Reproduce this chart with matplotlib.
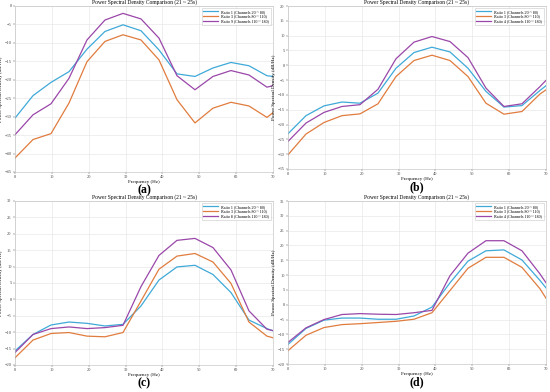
import matplotlib
matplotlib.use('Agg')
import matplotlib.pyplot as plt

plt.rcParams['font.family'] = ['Liberation Serif', 'DejaVu Serif']

# frequency bins (Hz)
freq = [0, 4.88, 9.77, 14.65, 19.53, 24.41, 29.3, 34.18, 39.06, 43.95, 48.83, 53.71, 58.59, 63.48, 68.36, 70]

# panel (a)
a_r1 = [-30.4, -24.3, -20.7, -17.8, -11.7, -6.9, -5.1, -6.7, -11.9, -18.4, -19.1, -16.8, -15.3, -16.2, -18.9, -19.1]
a_r3 = [-41.2, -36.2, -34.6, -26.3, -15.1, -9.6, -7.8, -9.2, -14.6, -25.4, -31.7, -27.7, -26.1, -27.1, -30.2, -28.9]
a_rx = [-34.9, -29.5, -26.5, -19.6, -9.2, -3.8, -2.0, -3.5, -8.7, -18.9, -22.7, -19.1, -17.5, -18.7, -22.0, -21.6]

# panel (b)
b_r1 = [-23.1, -17.0, -13.7, -12.4, -12.8, -9.4, -1.0, 4.3, 6.1, 4.5, -1.0, -8.8, -14.1, -13.6, -8.5, -6.9]
b_r3 = [-30.2, -23.2, -19.3, -17.0, -16.4, -13.0, -3.8, 1.6, 3.4, 1.6, -3.8, -12.8, -16.5, -15.6, -9.7, -8.3]
b_rx = [-25.7, -19.5, -15.9, -13.9, -13.3, -8.1, 2.2, 7.8, 9.7, 8.0, 2.6, -7.7, -13.9, -13.0, -7.2, -5.1]

# panel (c)
c_r1 = [-15.7, -10.7, -7.8, -6.9, -7.3, -8.1, -7.6, -2.0, 5.9, 9.9, 10.4, 7.6, 2.1, -6.3, -8.9, -9.6]
c_r3 = [-17.8, -12.4, -10.4, -10.1, -11.2, -11.4, -10.1, -0.5, 9.2, 13.2, 14.0, 11.4, 4.9, -6.9, -11.2, -11.7]
c_rx = [-16.2, -10.7, -8.9, -8.4, -8.9, -8.6, -7.9, 3.9, 13.4, 18.0, 18.6, 15.8, 9.0, -3.5, -9.1, -9.5]

# panel (d)
d_r1 = [-13.4, -8.0, -5.2, -4.5, -4.5, -4.9, -4.9, -3.8, -0.8, 7.4, 14.7, 18.2, 18.5, 15.1, 8.2, 5.7]
d_r3 = [-15.5, -10.3, -7.7, -6.7, -6.4, -6.0, -5.6, -4.9, -2.7, 4.8, 12.3, 16.0, 16.0, 12.6, 5.4, 2.2]
d_rx = [-12.7, -7.8, -5.0, -3.3, -3.0, -3.2, -3.3, -2.7, -1.9, 9.8, 17.4, 21.6, 21.6, 18.2, 10.4, 7.4]

panels = [
    ('(a)', a_r1, a_r3, a_rx, 'Ratio 9', (-45, 0)),
    ('(b)', b_r1, b_r3, b_rx, 'Ratio 4', (-35, 20)),
    ('(c)', c_r1, c_r3, c_rx, 'Ratio 8', (-20, 30)),
    ('(d)', d_r1, d_r3, d_rx, 'Ratio 4', (-20, 35)),
]

# axes positions in pixels: left, top, right, bottom
boxes = [(15, 6, 273, 172), (288, 6, 546, 169), (15, 201, 273, 365), (288, 201, 546, 364)]

W, H = 550, 392
fig = plt.figure(figsize=(W / 100, H / 100), dpi=100)
fig.patch.set_facecolor('white')

colors = ['#3fa9d8', '#e07c3e', '#9a47a9']

for (tag, r1, r3, rx, xname, ylim), (l, t, r, b) in zip(panels, boxes):
    ax = fig.add_axes([l / W, 1 - b / H, (r - l) / W, (b - t) / H])
    ax.plot(freq, r1, color=colors[0], lw=0.9, label='Ratio 1 (Channels 20 ~ 80)')
    ax.plot(freq, r3, color=colors[1], lw=0.9, label='Ratio 3 (Channels 80 ~ 110)')
    ax.plot(freq, rx, color=colors[2], lw=0.9, label=xname + ' (Channels 110 ~ 180)')
    ax.set_xlim(0, 70)
    ax.set_ylim(*ylim)
    ax.set_xticks(range(0, 71, 10))
    ax.set_yticks(range(ylim[0], ylim[1] + 1, 5))
    ax.tick_params(labelsize=3.2, length=1.5, width=0.3, pad=1, colors='#444444')
    ax.grid(True, color='#e3e3e3', lw=0.4)
    for s in ax.spines.values():
        s.set_linewidth(0.4)
        s.set_color('#bbbbbb')
    ax.set_title('Power Spectral Density Comparison (21 ~ 25s)', fontsize=4, pad=1.5)
    ax.set_xlabel('Frequency (Hz)', fontsize=3.6, labelpad=0.5)
    ax.set_ylabel('Power Spectral Density (dB/Hz)', fontsize=3.6, labelpad=1)
    leg = ax.legend(loc='upper right', fontsize=3.0, frameon=True, fancybox=False,
                    edgecolor='#bbbbbb', handlelength=3.5, borderpad=0.4, labelspacing=0.2)
    leg.get_frame().set_linewidth(0.4)
    # panel tag under the axes
    fig.text((l + r) / 2 / W, 1 - (b + 18) / H, tag, ha='center', va='center',
             fontsize=8.5, fontweight='bold')

plt.savefig('out.png', dpi=100)
plt.close()
